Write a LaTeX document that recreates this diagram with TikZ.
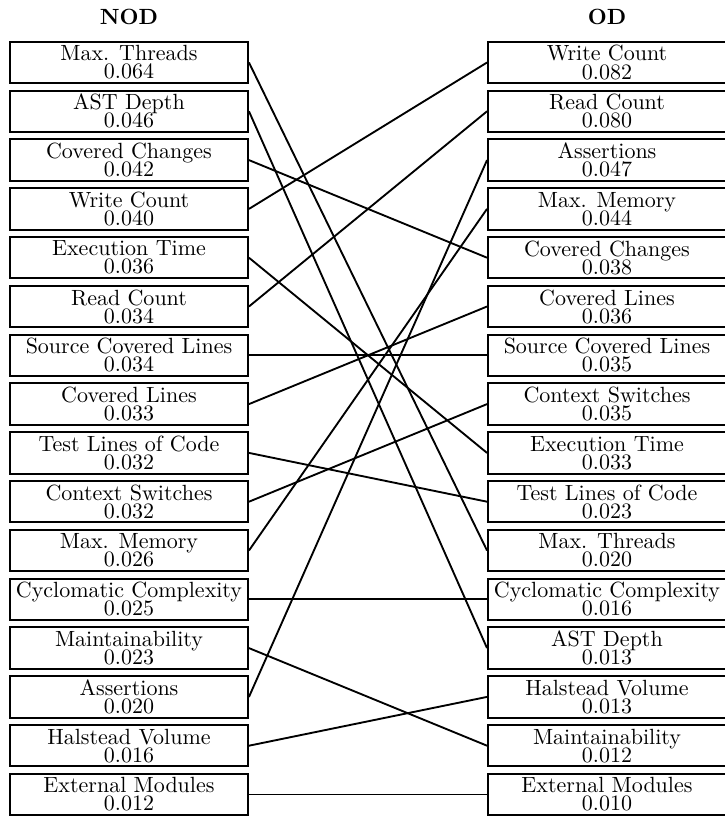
\documentclass[tikz,border=0pt]{standalone}
% two tightly set lines with a fixed distance between their baselines
\newcommand\metricfont{\fontsize{10}{8.2}\selectfont\lineskiplimit -20pt\relax\lineskip 0pt\relax}
\begin{document}
\begin{tikzpicture}[x=0.4545pt,y=-0.4545pt,
  metric/.style={draw, line width=0.85pt, minimum width=108.2pt, minimum height=18.8pt,
    inner sep=0pt, align=center, font=\metricfont},
  link/.style={line width=0.85pt},
  head/.style={font=\bfseries, anchor=base}]
\useasboundingbox (0,0) rectangle (724,817);

% column headings
\node[head] (nodtitle) at (129,24) {NOD};
\node[head] (odtitle) at (607,24) {OD};

% left column: NOD ranking
\foreach \t/\v [count=\i] in {
  Max. Threads/0.064, AST Depth/0.046, Covered Changes/0.042, Write Count/0.040,
  Execution Time/0.036, Read Count/0.034, Source Covered Lines/0.034, Covered Lines/0.033,
  Test Lines of Code/0.032, Context Switches/0.032, Max. Memory/0.026,
  Cyclomatic Complexity/0.025, Maintainability/0.023, Assertions/0.020,
  Halstead Volume/0.016, External Modules/0.012}
  \node[metric] (L\i) at (129,{62.5+(\i-1)*48.8}) {\t\\\v};

% right column: OD ranking
\foreach \t/\v [count=\i] in {
  Write Count/0.082, Read Count/0.080, Assertions/0.047, Max. Memory/0.044,
  Covered Changes/0.038, Covered Lines/0.036, Source Covered Lines/0.035,
  Context Switches/0.035, Execution Time/0.033, Test Lines of Code/0.023,
  Max. Threads/0.020, Cyclomatic Complexity/0.016, AST Depth/0.013,
  Halstead Volume/0.013, Maintainability/0.012, External Modules/0.010}
  \node[metric] (R\i) at (607,{62.5+(\i-1)*48.8}) {\t\\\v};

% rank changes between the two columns
\foreach \a/\b in {1/11, 2/13, 3/5, 4/1, 5/9, 6/2, 7/7, 8/6, 9/10, 10/8,
                   11/4, 12/12, 13/15, 14/3, 15/14, 16/16}
  \draw[link] (L\a.east) -- (R\b.west);
\end{tikzpicture}
\end{document}
